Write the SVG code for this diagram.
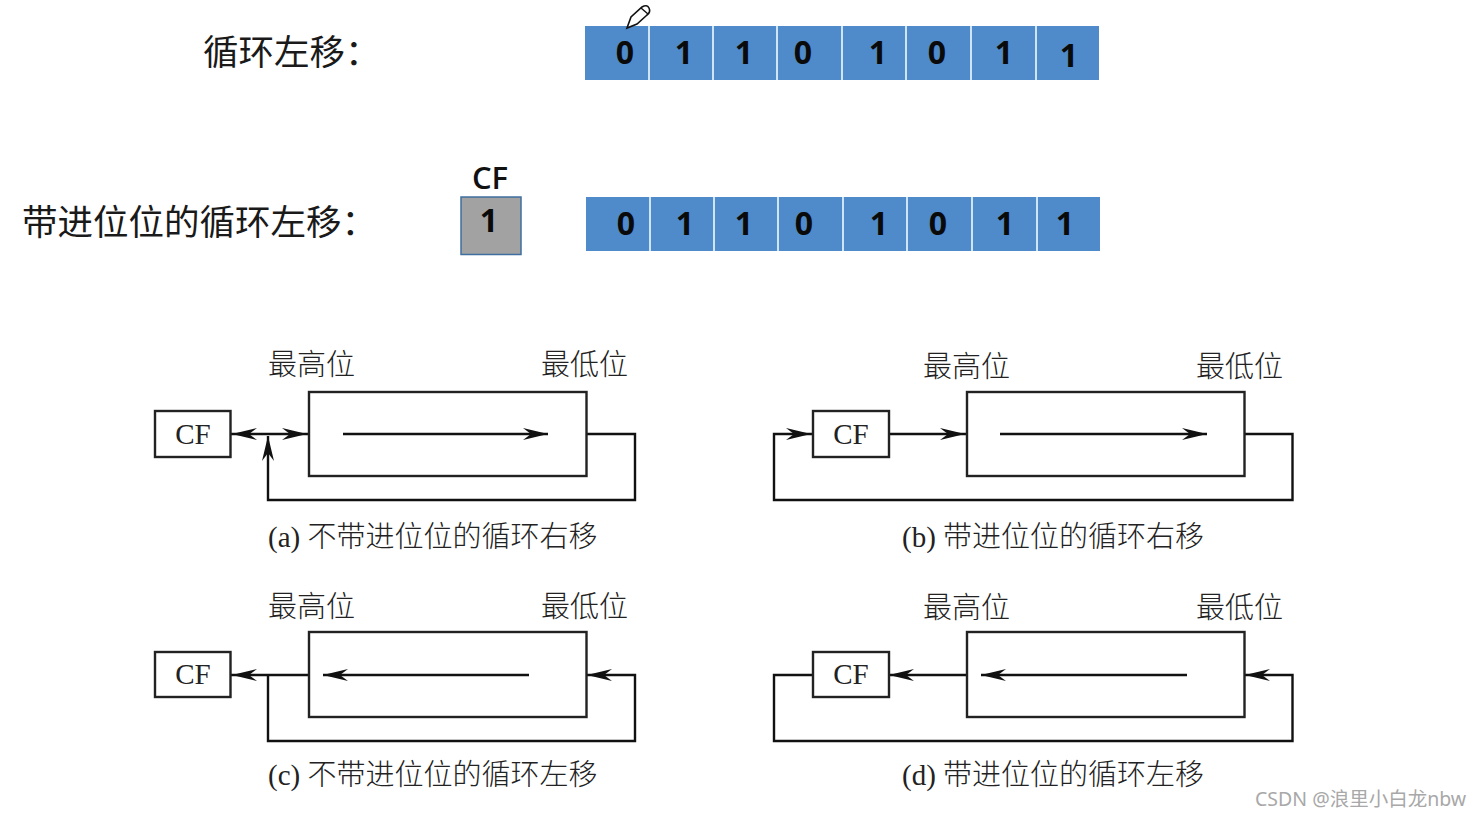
<svg xmlns="http://www.w3.org/2000/svg" width="1482" height="817" viewBox="0 0 1482 817">
<style>
.h{font-family:"Noto Sans CJK SC","Noto Sans",sans-serif;font-size:35.500px;fill:#1a1a1a}
.d{font-family:"Open Sans","Liberation Sans",sans-serif;font-size:32px;font-weight:700;fill:#0a0a0a;text-anchor:middle}
.c{fill:#4f8aca}
.sep{stroke:#cfe4f5;stroke-width:2}
.t{font-family:"Liberation Serif","Noto Sans CJK SC",serif;font-size:29px;font-weight:300;fill:#222}
.cf{font-family:"Liberation Serif",serif;font-size:29px;fill:#222;text-anchor:middle}
.b{fill:#fff;stroke:#222;stroke-width:2.400}
.l{fill:none;stroke:#111;stroke-width:2.400}
.a{fill:#111;stroke:none}
</style>
<defs>
<path id="ar" class="a" d="M0 0L-25 -6L-17 0L-25 6Z"/>
</defs>
<rect width="1482" height="817" fill="#fff"/>
<g id="label-rol"><text class="h" x="203" y="65">循环左移：</text></g>
<g id="label-rcl"><text class="h" x="22" y="235">带进位位的循环左移：</text></g>
<g id="row-1">
<rect class="c" x="585" y="26" width="514" height="54"/>
<path class="sep" d="M649 26V80M713 26V80M777 26V80M842 26V80M906 26V80M971 26V80M1036 26V80"/>
<text class="d" x="625" y="64">0</text><text class="d" x="684" y="64">1</text><text class="d" x="744" y="64">1</text><text class="d" x="803" y="64">0</text><text class="d" x="878" y="64">1</text><text class="d" x="937" y="64">0</text><text class="d" x="1004" y="64">1</text><text class="d" x="1069" y="67">1</text>
</g>
<g id="pencil"><path d="M627 28L631 17L642 7Q647 4 649 8Q651 12 647 15L637 24Z" fill="#fff" stroke="#111" stroke-width="1.600"/><path d="M641 8L648 14" stroke="#111" stroke-width="1.400"/></g>
<g id="row-2">
<rect class="c" x="586" y="197" width="514" height="54"/>
<path class="sep" d="M650 197V251M714 197V251M778 197V251M843 197V251M907 197V251M972 197V251M1037 197V251"/>
<text class="d" x="626" y="235">0</text><text class="d" x="685" y="235">1</text><text class="d" x="744" y="235">1</text><text class="d" x="804" y="235">0</text><text class="d" x="879" y="235">1</text><text class="d" x="938" y="235">0</text><text class="d" x="1005" y="235">1</text><text class="d" x="1065" y="235">1</text>
</g>
<g id="cf-top">
<text x="490" y="189" font-family="Open Sans,Liberation Sans,sans-serif" font-size="31" font-weight="600" fill="#111" text-anchor="middle">CF</text>
<rect x="461" y="197" width="60" height="57.500" fill="#a2a2a2" stroke="#3f6f9f" stroke-width="1.500"/>
<text class="d" x="489" y="232">1</text>
</g>

<g id="connectors">
<path class="l" d="M231 434H309M343 434H548M586.500 434H635V500H268V436"/>
<path class="l" d="M889 434H967M1000 434H1207M1244.500 434H1292.500V500H774V434H813"/>
<path class="l" d="M231 675H309M323 675H529M586.500 675H635V741H268V675"/>
<path class="l" d="M889 675H967M981 675H1187M1244.500 675H1292.500V741H774V675H813"/>
<use href="#ar" x="307" y="434"/><use href="#ar" x="548" y="434"/>
<use href="#ar" transform="translate(232 434) rotate(180)"/>
<use href="#ar" transform="translate(268 436) rotate(-90)"/>
<use href="#ar" x="965" y="434"/><use href="#ar" x="1207" y="434"/><use href="#ar" x="811" y="434"/>
<use href="#ar" transform="translate(232 675) rotate(180)"/>
<use href="#ar" transform="translate(323 675) rotate(180)"/>
<use href="#ar" transform="translate(587 675) rotate(180)"/>
<use href="#ar" transform="translate(889 675) rotate(180)"/>
<use href="#ar" transform="translate(981 675) rotate(180)"/>
<use href="#ar" transform="translate(1245 675) rotate(180)"/>
</g>

<g id="a">
<rect class="b" x="155" y="411" width="75.500" height="46"/><text class="cf" x="193" y="444">CF</text>
<rect x="309" y="392" width="277.500" height="84" fill="none" stroke="#222" stroke-width="2.400"/>
<text class="t" x="268" y="375">最高位</text><text class="t" x="541" y="375">最低位</text>
<text class="t" x="268" y="547">(a) 不带进位位的循环右移</text>
</g>
<g id="b">
<rect class="b" x="813" y="411" width="76" height="46"/><text class="cf" x="851" y="444">CF</text>
<rect x="967" y="392" width="277.500" height="84" fill="none" stroke="#222" stroke-width="2.400"/>
<text class="t" x="923" y="377">最高位</text><text class="t" x="1196" y="377">最低位</text>
<text class="t" x="902" y="547">(b) 带进位位的循环右移</text>
</g>
<g id="c">
<rect class="b" x="155" y="652" width="75.500" height="45"/><text class="cf" x="193" y="684">CF</text>
<rect x="309" y="632" width="277.500" height="85" fill="none" stroke="#222" stroke-width="2.400"/>
<text class="t" x="268" y="617">最高位</text><text class="t" x="541" y="617">最低位</text>
<text class="t" x="268" y="785">(c) 不带进位位的循环左移</text>
</g>
<g id="d">
<rect class="b" x="813" y="652" width="76" height="45"/><text class="cf" x="851" y="684">CF</text>
<rect x="967" y="632" width="277.500" height="85" fill="none" stroke="#222" stroke-width="2.400"/>
<text class="t" x="923" y="618">最高位</text><text class="t" x="1196" y="618">最低位</text>
<text class="t" x="902" y="785">(d) 带进位位的循环左移</text>
</g>
<text x="1255" y="806" font-family="Noto Sans,Noto Sans CJK SC,sans-serif" font-size="19.500" fill="#a8a8a8">CSDN @浪里小白龙nbw</text>
</svg>
